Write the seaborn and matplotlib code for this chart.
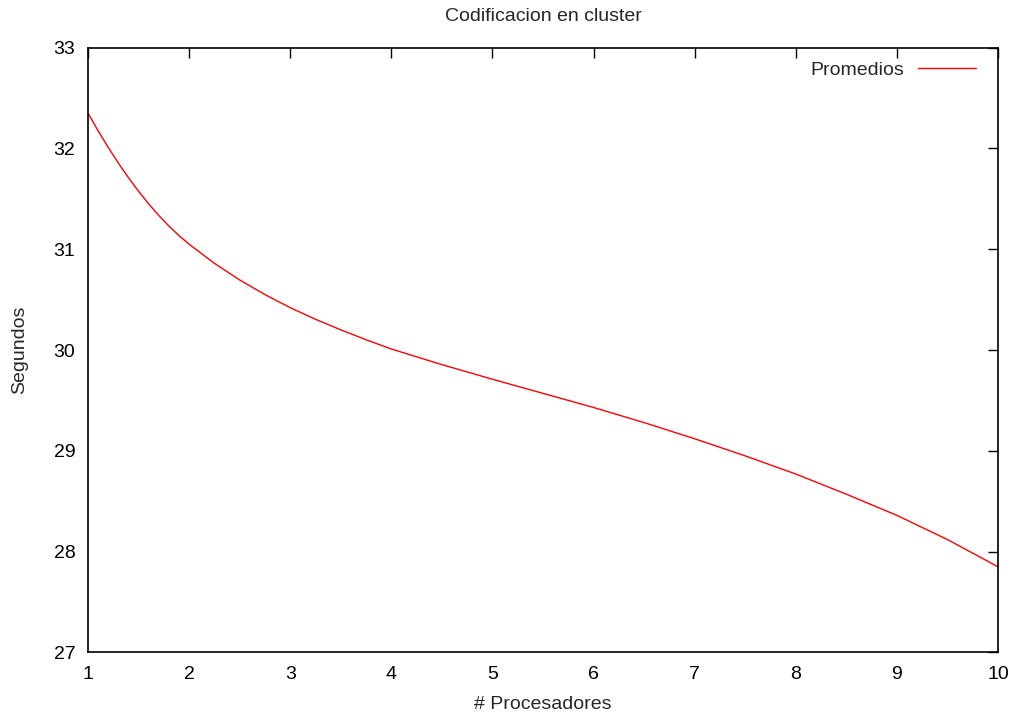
import matplotlib
matplotlib.use("Agg")
import matplotlib.pyplot as plt
import seaborn as sns
import pandas as pd

# Average encoding time on the cluster vs. number of processors
procesadores = [1.0, 1.1, 1.2, 1.3, 1.4, 1.5, 1.6, 1.7, 1.8, 1.9, 2.0,
                2.25, 2.5, 2.75, 3.0, 3.25, 3.5, 3.75, 4.0, 4.5,
                5.0, 5.5, 6.0, 6.5, 7.0, 7.5, 8.0, 8.5, 9.0, 9.5, 10.0]
segundos = [32.35, 32.175, 32.01, 31.855, 31.71, 31.575, 31.45, 31.335,
            31.23, 31.135, 31.05, 30.86, 30.695, 30.55, 30.42, 30.305,
            30.20, 30.102, 30.01, 29.855, 29.71, 29.57, 29.43, 29.28,
            29.12, 28.95, 28.77, 28.57, 28.36, 28.12, 27.85]

xticks = [1, 2, 3, 4, 5, 6, 7, 8, 9, 10]
yticks = [27, 28, 29, 30, 31, 32, 33]

sns.set_style("white")
plt.rcParams["font.family"] = ["Liberation Sans", "DejaVu Sans"]

df = pd.DataFrame({"Procesadores": procesadores, "Segundos": segundos})

fig = plt.figure(figsize=(10.18, 7.19), dpi=100)
ax = fig.add_axes([0.0864, 0.0925, 0.894, 0.8414])

sns.lineplot(data=df, x="Procesadores", y="Segundos", ax=ax, color="#ff0000",
             linewidth=1.0, label="Promedios")

ax.set_xlim(1, 10)
ax.set_ylim(27, 33)
ax.set_xticks(xticks)
ax.set_yticks(yticks)
ax.tick_params(direction="in", length=7, width=1.0, top=True, right=True,
               labelsize=14, colors="black")
ax.tick_params(axis="x", pad=10)
ax.tick_params(axis="y", pad=9)
for side in ax.spines.values():
    side.set_visible(True)
    side.set_color("black")
    side.set_linewidth(1.2)

ax.set_title("Codificacion en cluster", fontsize=14, pad=19)
ax.set_xlabel("# Procesadores", fontsize=14, labelpad=9)
ax.set_ylabel("Segundos", fontsize=14, labelpad=18.5)

leg = ax.legend(loc="upper right", bbox_to_anchor=(0.9846, 0.9906),
                frameon=False, fontsize=14, markerfirst=False,
                handlelength=3.0, handletextpad=0.72, borderaxespad=0.0)

fig.savefig("out.png", dpi=100)
